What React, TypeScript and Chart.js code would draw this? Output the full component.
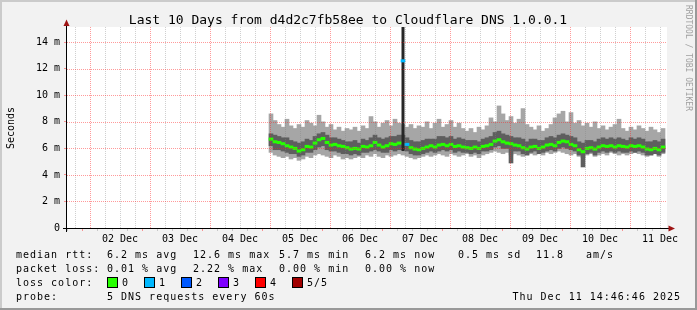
import React, { useEffect, useRef } from 'react';
import { Chart, registerables } from 'chart.js';

Chart.register(...registerables);

const TITLE = 'Last 10 Days from d4d2c7fb58ee to Cloudflare DNS 1.0.0.1';
const Y_TITLE = 'Seconds';
const WATERMARK = 'RRDTOOL / TOBI OETIKER';

// x axis in hours since 01 Dec 00:00
const X_START = 14.8;
const X_END = 254.8;
const SAMPLE_START = 96.4;
const SAMPLE_STEP = 1.6;
const Y_MAX = 15.15;

const dayLabels = ['02 Dec', '03 Dec', '04 Dec', '05 Dec', '06 Dec', '07 Dec', '08 Dec', '09 Dec', '10 Dec', '11 Dec'];
const dayLabelHours = [36, 60, 84, 108, 132, 156, 180, 204, 228, 252];
const yTickValues = [0, 1, 2, 3, 4, 5, 6, 7, 8, 9, 10, 11, 12, 13, 14, 15];

// values in ms
const medianMs = [
  6.7, 6.5, 6.45, 6.35, 6.2, 6.1, 6.0, 5.8, 5.9, 6.15,
  6.1, 6.4, 6.65, 6.75, 6.45, 6.25, 6.3, 6.2, 6.15, 6.05,
  5.95, 6.0, 5.95, 6.15, 6.1, 6.2, 6.45, 6.25, 6.1, 6.2,
  6.35, 6.3, 6.4, 12.6, 6.3, 6.05, 5.95, 5.9, 6.0, 6.1,
  6.2, 6.1, 6.25, 6.3, 6.2, 6.3, 6.15, 6.2, 6.1, 6.05,
  6.0, 6.1, 6.0, 6.15, 6.2, 6.3, 6.55, 6.65, 6.5, 6.4,
  6.35, 6.25, 6.2, 6.05, 5.95, 6.1, 6.15, 6.0, 6.1, 6.25,
  6.3, 6.2, 6.45, 6.55, 6.5, 6.3, 6.2, 5.9, 5.75, 6.0,
  6.05, 5.95, 6.1, 6.2, 6.15, 6.2, 6.1, 6.2, 6.15, 6.1,
  6.2, 6.15, 6.2, 6.1, 5.95, 5.9, 6.0, 5.9, 6.1,
];
const minMs = [
  5.7, 5.5, 5.4, 5.3, 5.4, 5.2, 5.3, 5.1, 5.2, 5.4,
  5.3, 5.5, 5.6, 5.5, 5.4, 5.3, 5.5, 5.4, 5.2, 5.3,
  5.2, 5.3, 5.4, 5.3, 5.5, 5.4, 5.6, 5.4, 5.3, 5.5,
  5.4, 5.5, 5.6, 5.5, 5.4, 5.3, 5.2, 5.3, 5.4, 5.5,
  5.4, 5.5, 5.6, 5.5, 5.4, 5.6, 5.5, 5.4, 5.5, 5.6,
  5.4, 5.5, 5.3, 5.5, 5.6, 5.7, 5.8, 5.7, 5.6, 5.7,
  5.5, 5.6, 5.5, 5.4, 5.5, 5.6, 5.5, 5.6, 5.5, 5.7,
  5.6, 5.7, 5.8, 5.7, 5.6, 5.5, 5.6, 5.4, 5.3, 5.5,
  5.6, 5.4, 5.5, 5.6, 5.5, 5.7, 5.6, 5.5, 5.6, 5.5,
  5.6, 5.7, 5.6, 5.5, 5.4, 5.5, 5.6, 5.4, 5.6,
];
const lowerMs = [
  6.2, 5.9, 5.9, 5.8, 5.7, 5.6, 5.6, 5.4, 5.5, 5.7,
  5.7, 5.9, 6.1, 6.2, 5.9, 5.8, 5.8, 5.7, 5.6, 5.6,
  5.5, 5.6, 5.5, 5.7, 5.7, 5.8, 5.9, 5.8, 5.7, 5.7,
  5.9, 5.8, 5.9, 5.9, 5.8, 5.6, 5.5, 5.5, 5.6, 5.7,
  5.8, 5.7, 5.8, 5.9, 5.8, 5.9, 5.7, 5.8, 5.7, 5.7,
  5.6, 5.7, 5.6, 5.8, 5.8, 5.9, 6.1, 6.2, 6.0, 6.0,
  4.9, 5.8, 5.8, 5.6, 5.5, 5.7, 5.8, 5.6, 5.7, 5.8,
  5.9, 5.8, 6.0, 6.1, 6.0, 5.9, 5.8, 5.5, 4.6, 5.6,
  5.7, 5.5, 5.7, 5.8, 5.7, 5.8, 5.7, 5.8, 5.7, 5.7,
  5.8, 5.7, 5.8, 5.7, 5.5, 5.5, 5.6, 5.5, 5.7,
];
const upperMs = [
  7.1, 7.0, 6.9, 6.8, 6.8, 6.6, 6.5, 6.4, 6.5, 6.7,
  6.6, 6.9, 7.1, 7.2, 7.0, 6.8, 6.8, 6.7, 6.6, 6.5,
  6.5, 6.6, 6.4, 6.7, 6.6, 6.8, 7.0, 6.8, 6.7, 6.8,
  6.9, 6.9, 7.0, 7.0, 6.8, 6.6, 6.5, 6.5, 6.6, 6.7,
  6.7, 6.7, 6.9, 6.9, 6.8, 6.9, 6.7, 6.8, 6.7, 6.6,
  6.6, 6.6, 6.5, 6.7, 6.8, 6.9, 7.2, 7.3, 7.1, 7.0,
  6.9, 6.8, 6.8, 6.7, 6.5, 6.7, 6.7, 6.6, 6.6, 6.8,
  6.9, 6.8, 7.0, 7.1, 7.0, 6.9, 6.8, 6.5, 6.4, 6.6,
  6.6, 6.5, 6.7, 6.8, 6.7, 6.8, 6.7, 6.8, 6.7, 6.6,
  6.8, 6.7, 6.8, 6.7, 6.5, 6.5, 6.6, 6.5, 6.7,
];
const maxMs = [
  8.6, 8.1, 7.8, 7.6, 8.2, 7.7, 7.5, 7.8, 7.6, 8.1,
  7.9, 7.7, 8.5, 8.0, 7.6, 7.8, 7.4, 7.6, 7.3, 7.5,
  7.4, 7.6, 7.3, 7.7, 7.5, 8.4, 8.0, 7.6, 7.9, 8.1,
  7.7, 8.2, 7.9, 7.8, 7.6, 7.8, 7.5, 7.7, 7.6, 8.0,
  7.5, 7.9, 8.2, 7.6, 7.8, 8.1, 7.6, 7.9, 7.5, 7.3,
  7.5, 7.2, 7.6, 7.4, 7.7, 8.3, 8.0, 9.2, 8.6, 8.1,
  8.4, 7.9, 8.2, 9.0, 7.8, 7.6, 7.4, 7.7, 7.3, 7.5,
  7.8, 8.3, 8.6, 8.8, 8.0, 8.7, 7.9, 8.1, 7.7, 7.9,
  7.6, 8.0, 7.5, 7.7, 7.4, 7.6, 7.8, 8.2, 7.5, 7.3,
  7.6, 7.4, 7.7, 7.5, 7.3, 7.6, 7.4, 7.2, 7.5,
];
const lossIndex = [33, 34];
const lossLevel = [1, 1];
const spikeIndex = 33;
const spikeLowMs = 5.8;
const spikeHighMs = 15.2;

const lossColors = ['#26ff00', '#00b8ff', '#0059ff', '#7e00ff', '#ff0000', '#a10000'];
const lossLabels = ['0', '1', '2', '3', '4', '5/5'];

const rttLabel = 'median rtt:';
const rttStats = ['6.2 ms avg', '12.6 ms max', '5.7 ms min', '6.2 ms now', '0.5 ms sd', '11.8', 'am/s'];
const lossTitle = 'packet loss:';
const lossStats = ['0.01 % avg', '2.22 % max', '0.00 % min', '0.00 % now'];
const colorTitle = 'loss color:';
const probeTitle = 'probe:';
const probeText = '5 DNS requests every 60s';
const stampText = 'Thu Dec 11 14:46:46 2025';

const MONO = 'DejaVu Sans Mono';
const GRID_MINOR = 'rgba(128,128,128,0.38)';
const GRID_MAJOR = 'rgba(255,30,30,0.45)';
const ARROW = '#9e1414';

const sampleHours = medianMs.map((_, i) => SAMPLE_START + i * SAMPLE_STEP);
const gridHours: number[] = [];
for (let h = 18; h <= 252; h += 6) gridHours.push(h);

const isMajorX = (v: number) => Math.abs(v % 24) < 1e-6;
const isMajorY = (v: number) => Math.abs(v % 2) < 1e-6;

// dotted rrdtool-style grid drawn over the smoke, positioned by the chart's own scales
const gridPlugin = {
  id: 'rrdGrid',
  afterDatasetsDraw(chart: any) {
    const { ctx, chartArea: a, scales } = chart;
    const xs = scales.x;
    const ys = scales.y;
    ctx.save();
    ctx.lineWidth = 1;
    ctx.setLineDash([1, 1]);
    xs.ticks.forEach((t: any) => {
      const px = Math.round(xs.getPixelForValue(t.value)) + 0.5;
      ctx.strokeStyle = isMajorX(t.value) ? GRID_MAJOR : GRID_MINOR;
      ctx.beginPath();
      ctx.moveTo(px, a.top);
      ctx.lineTo(px, a.bottom);
      ctx.stroke();
    });
    ys.ticks.forEach((t: any) => {
      if (t.value === 0) return;
      const py = Math.round(ys.getPixelForValue(t.value)) + 0.5;
      ctx.strokeStyle = isMajorY(t.value) ? GRID_MAJOR : GRID_MINOR;
      ctx.beginPath();
      ctx.moveTo(a.left, py);
      ctx.lineTo(a.right, py);
      ctx.stroke();
    });
    ctx.restore();
  },
};

const decorPlugin = {
  id: 'rrdDecor',
  beforeDraw(chart: any) {
    const { ctx, chartArea: a, width, height } = chart;
    ctx.save();
    ctx.fillStyle = '#f2f2f2';
    ctx.fillRect(0, 0, width, height);
    ctx.fillStyle = '#cbcbcb';
    ctx.fillRect(0, 0, width, 2);
    ctx.fillRect(0, 0, 2, height);
    ctx.fillStyle = '#999999';
    ctx.fillRect(0, height - 2, width, 2);
    ctx.fillRect(width - 2, 0, 2, height);
    ctx.fillStyle = '#ffffff';
    ctx.fillRect(a.left, a.top, a.right - a.left, a.bottom - a.top);
    ctx.restore();
  },
  afterDraw(chart: any) {
    const { ctx } = chart;
    ctx.save();
    // axes
    ctx.strokeStyle = '#000';
    ctx.lineWidth = 1;
    ctx.beginPath();
    ctx.moveTo(66.5, 232);
    ctx.lineTo(66.5, 24);
    ctx.moveTo(63, 228.5);
    ctx.lineTo(671, 228.5);
    ctx.stroke();
    ctx.fillStyle = ARROW;
    ctx.beginPath();
    ctx.moveTo(66.5, 19.5);
    ctx.lineTo(63.5, 26);
    ctx.lineTo(69.5, 26);
    ctx.closePath();
    ctx.fill();
    ctx.beginPath();
    ctx.moveTo(675, 228.5);
    ctx.lineTo(668.5, 225.5);
    ctx.lineTo(668.5, 231.5);
    ctx.closePath();
    ctx.fill();

    // title
    ctx.fillStyle = '#000';
    ctx.font = `13px ${MONO}`;
    ctx.textAlign = 'center';
    ctx.textBaseline = 'alphabetic';
    ctx.fillText(TITLE, 348, 24);

    // y title
    ctx.save();
    ctx.font = `10px ${MONO}`;
    ctx.translate(13.5, 128);
    ctx.rotate(-Math.PI / 2);
    ctx.textAlign = 'center';
    ctx.textBaseline = 'alphabetic';
    ctx.fillText(Y_TITLE, 0, 0);
    ctx.restore();

    // watermark
    ctx.save();
    ctx.font = `8px ${MONO}`;
    ctx.fillStyle = '#a0a0a0';
    ctx.translate(686, 5);
    ctx.rotate(Math.PI / 2);
    ctx.textAlign = 'left';
    ctx.textBaseline = 'alphabetic';
    ctx.fillText(WATERMARK, 0, 0);
    ctx.restore();

    // legend
    ctx.font = `10px ${MONO}`;
    (ctx as any).letterSpacing = '1px';
    ctx.textAlign = 'left';
    ctx.textBaseline = 'alphabetic';
    ctx.fillStyle = '#000';
    const rttX = [107, 193, 279, 365, 458, 536, 586];
    ctx.fillText(rttLabel, 16, 258);
    rttStats.forEach((s, i) => ctx.fillText(s, rttX[i], 258));
    const lossX = [107, 193, 279, 365];
    ctx.fillText(lossTitle, 16, 272);
    lossStats.forEach((s, i) => ctx.fillText(s, lossX[i], 272));
    ctx.fillText(colorTitle, 16, 286);
    lossColors.forEach((c, i) => {
      const bx = 108 + i * 37;
      ctx.fillStyle = c;
      ctx.fillRect(bx, 278, 9, 9);
      ctx.strokeStyle = '#000';
      ctx.strokeRect(bx - 0.5, 277.5, 10, 10);
      ctx.fillStyle = '#000';
      ctx.fillText(lossLabels[i], bx + 14, 286);
    });
    ctx.fillText(probeTitle, 16, 300);
    ctx.fillText(probeText, 107, 300);
    ctx.textAlign = 'right';
    ctx.fillText(stampText, 681, 300);
    (ctx as any).letterSpacing = '0px';
    ctx.restore();
  },
};

const barCommon = {
  grouped: false,
  barPercentage: 1,
  categoryPercentage: 1,
  borderWidth: 0,
  clip: 0,
};

export default function App() {
  const ref = useRef<HTMLCanvasElement | null>(null);

  useEffect(() => {
    if (!ref.current) return;
    const medianColors = medianMs.map((_, i) => {
      const k = lossIndex.indexOf(i);
      return lossColors[k >= 0 ? lossLevel[k] : 0];
    });
    const chart = new Chart(ref.current, {
      type: 'bar',
      data: {
        datasets: [
          {
            ...barCommon,
            label: 'median rtt',
            order: 1,
            data: sampleHours.map((t, i) => ({ x: t, y: [medianMs[i] - 0.09, medianMs[i] + 0.09] })),
            backgroundColor: medianColors,
          } as any,
          {
            ...barCommon,
            label: 'spike',
            order: 2,
            barPercentage: 0.75,
            data: [{ x: sampleHours[spikeIndex], y: [spikeLowMs, spikeHighMs] }],
            backgroundColor: '#262626',
          } as any,
          {
            ...barCommon,
            label: 'smoke inner',
            order: 3,
            data: sampleHours.map((t, i) => ({ x: t, y: [lowerMs[i], upperMs[i]] })),
            backgroundColor: '#5e5e5e',
          } as any,
          {
            ...barCommon,
            label: 'smoke outer',
            order: 4,
            data: sampleHours.map((t, i) => ({ x: t, y: [minMs[i], maxMs[i]] })),
            backgroundColor: '#a6a6a6',
          } as any,
        ],
      },
      options: {
        responsive: false,
        animation: false,
        devicePixelRatio: 1,
        layout: { padding: { left: 0, right: 30, top: 27, bottom: 0 } },
        plugins: {
          legend: { display: false },
          tooltip: { enabled: false },
          title: { display: false },
        },
        scales: {
          x: {
            type: 'linear',
            min: X_START,
            max: X_END,
            offset: false,
            afterBuildTicks: (s: any) => {
              s.ticks = gridHours.map((v) => ({ value: v }));
            },
            afterFit: (s: any) => {
              s.height = 82;
            },
            ticks: {
              autoSkip: false,
              maxRotation: 0,
              minRotation: 0,
              padding: 2,
              color: '#000',
              font: { family: MONO, size: 10 },
              callback: (v: any) => {
                const k = dayLabelHours.indexOf(Number(v));
                return k >= 0 ? dayLabels[k] : '';
              },
            },
            grid: {
              drawOnChartArea: false,
              color: (c: any) => (c.tick && isMajorX(Number(c.tick.value)) ? GRID_MAJOR : GRID_MINOR),
              lineWidth: 1,
              drawTicks: true,
              tickLength: 3,
            },
            border: { display: false },
          },
          y: {
            type: 'linear',
            min: 0,
            max: Y_MAX,
            afterBuildTicks: (s: any) => {
              s.ticks = yTickValues.map((v) => ({ value: v }));
            },
            afterFit: (s: any) => {
              s.width = 67;
            },
            ticks: {
              padding: 4,
              color: '#000',
              font: { family: MONO, size: 10 },
              callback: (v: any) => {
                const n = Number(v);
                if (n === 0) return '0';
                return n % 2 === 0 ? `${n} m` : '';
              },
            },
            grid: {
              drawOnChartArea: false,
              color: (c: any) => (c.tick && isMajorY(Number(c.tick.value)) ? GRID_MAJOR : GRID_MINOR),
              lineWidth: 1,
              drawTicks: true,
              tickLength: 3,
            },
            border: { display: false },
          },
        },
      } as any,
      plugins: [decorPlugin, gridPlugin],
    });
    return () => chart.destroy();
  }, []);

  return (
    <div style={{ position: 'fixed', left: 0, top: 0, width: 697, height: 310 }}>
      <canvas ref={ref} width={697} height={310} style={{ width: 697, height: 310, display: 'block' }} />
    </div>
  );
}
